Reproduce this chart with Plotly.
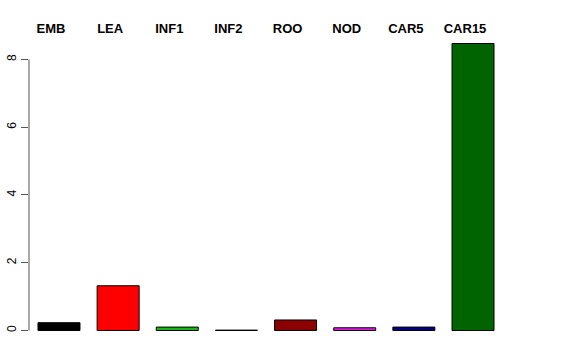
import plotly.graph_objects as go

categories = ["EMB", "LEA", "INF1", "INF2", "ROO", "NOD", "CAR5", "CAR15"]
values = [0.23, 1.32, 0.10, 0.01, 0.31, 0.08, 0.10, 8.47]
colors = ["#000000", "#FF0000", "#18B818", "#808080", "#8B0000", "#E818E8", "#000080", "#006400"]
y_ticks = [0, 2, 4, 6, 8]

positions = list(range(len(categories)))
label_shift = 0.135  # labels sit slightly left of bar centres in the reference

fig = go.Figure()
fig.add_trace(go.Bar(
    x=positions, y=values,
    marker=dict(color=colors, line=dict(color="#000000", width=1)),
    showlegend=False, hoverinfo="skip",
))
fig.add_trace(go.Scatter(x=positions, y=[None] * len(positions), xaxis="x2",
                         mode="markers", showlegend=False, hoverinfo="skip"))

xr = [-0.507, len(categories) - 1 + 0.507]
fig.update_layout(
    width=576, height=360,
    margin=dict(l=29, r=72.5, t=31.5, b=17.5, autoexpand=False),
    paper_bgcolor="white", plot_bgcolor="white",
    bargap=0.29,
    font=dict(family="Liberation Sans, Arial, sans-serif", color="black"),
    xaxis=dict(
        range=xr, showline=False, showgrid=False, zeroline=False,
        showticklabels=False, ticks="", automargin=False,
    ),
    xaxis2=dict(
        overlaying="x", side="top", anchor="y",
        range=[xr[0] + label_shift, xr[1] + label_shift],
        tickvals=positions, ticktext=categories,
        showline=False, showgrid=False, zeroline=False, ticks="", automargin=False,
        tickfont=dict(size=13, family="Liberation Sans, Arial, sans-serif", weight="bold"),
        ticklabelstandoff=-5,
    ),
    yaxis=dict(
        range=[-0.34, 8.81], tickvals=y_ticks, ticktext=[str(v) for v in y_ticks],
        ticks="outside", ticklen=7, tickcolor="#555555", tickwidth=1,
        tickangle=-90, tickfont=dict(size=12), automargin=False,
        showline=False, showgrid=False, zeroline=False,
    ),
)
fig.add_shape(type="line", xref="paper", yref="y", x0=0, x1=0, y0=y_ticks[0], y1=y_ticks[-1],
              line=dict(color="#555555", width=1))

fig.write_html("out.html")
